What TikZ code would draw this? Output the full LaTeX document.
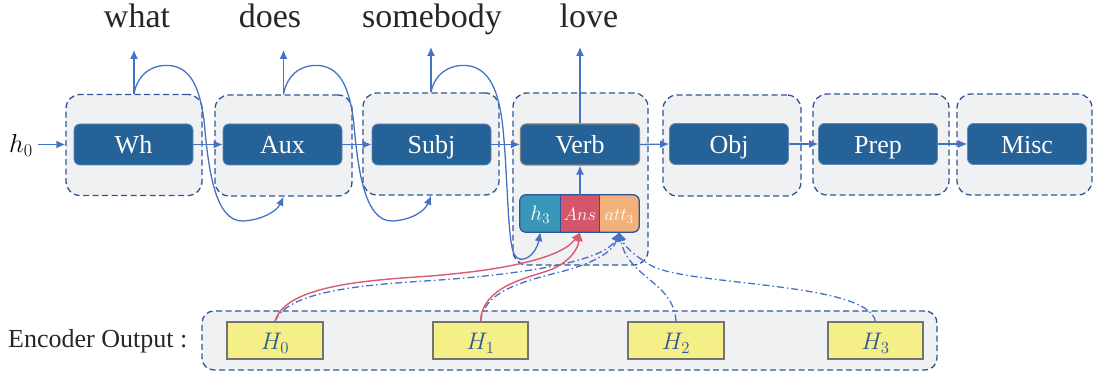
\RequirePackage{fix-cm}
\documentclass[tikz,border=0pt]{standalone}
\usepackage{fontspec}
\setmainfont{Liberation Serif}
\usetikzlibrary{arrows.meta}
\definecolor{boxgrey}{HTML}{F0F1F3}
\definecolor{dashblue}{HTML}{2F5597}
\definecolor{innerblue}{HTML}{246298}
\definecolor{lineblue}{HTML}{4472C4}
\definecolor{redline}{HTML}{D95B70}
\definecolor{tealc}{HTML}{3A96B8}
\definecolor{redc}{HTML}{D4566A}
\definecolor{orangec}{HTML}{F2B07A}
\definecolor{yellowc}{HTML}{F4EF87}
\definecolor{hblue}{HTML}{2F5597}
\tikzset{
  outerbox/.style={draw=dashblue, dash pattern=on 6pt off 3.5pt, line width=1.3pt, fill=boxgrey, rounded corners=14pt, inner sep=0pt},
  innerbox/.style={draw=innerblue!75!white, line width=0.8pt, fill=innerblue, rounded corners=6pt, minimum width=119pt, minimum height=41pt, inner sep=0pt, text height=19pt, text depth=0pt, text=white, font=\fontsize{26}{30}\selectfont},
  word/.style={font=\fontsize{34}{40}\selectfont, text=black!85, anchor=base, inner sep=0pt},
  arr/.style={draw=lineblue, line width=1.3pt, -{Latex[length=9pt,width=8pt]}},
  redarr/.style={draw=redline, line width=1.4pt, -{Latex[length=9pt,width=8pt]}},
  dd/.style={draw=lineblue, line width=1.3pt, dash pattern=on 7pt off 3pt on 1.5pt off 3pt, -{Latex[length=9pt,width=9pt]}},
  part/.style={inner sep=0pt, minimum height=37pt, text height=14pt, text depth=0pt, text=white, font=\fontsize{18}{22}\selectfont},
  hbox/.style={draw=black!55, line width=1.1pt, fill=yellowc, minimum height=37pt, inner sep=0pt, text height=18pt, text depth=0pt, text=hblue, font=\fontsize{24}{28}\selectfont}
}
\begin{document}
\begin{tikzpicture}[x=1pt,y=-1pt]
\useasboundingbox (0,0) rectangle (1093,379);

% outer dashed boxes
\node[outerbox, minimum width=136pt, minimum height=101pt] (whO) at (134,145) {};
\node[outerbox, minimum width=137pt, minimum height=101pt] (auxO) at (283.5,145.5) {};
\node[outerbox, minimum width=136pt, minimum height=102pt] (subjO) at (431,144) {};
\node[outerbox, minimum width=135pt, minimum height=172pt] (verbO) at (580.5,179) {};
\node[outerbox, minimum width=138pt, minimum height=101pt] (objO) at (732,145.5) {};
\node[outerbox, minimum width=136pt, minimum height=101pt] (prepO) at (881,144.5) {};
\node[outerbox, minimum width=135pt, minimum height=101pt] (miscO) at (1024.5,144.5) {};

% inner boxes
\node[innerbox] (wh) at (133.5,144.5) {Wh};
\node[innerbox] (aux) at (282.5,144.5) {Aux};
\node[innerbox] (subj) at (431.5,144.5) {Subj};
\node[innerbox, draw=black!50, line width=1.2pt] (verb) at (580,144.5) {Verb};
\node[innerbox] (obj) at (729,144) {Obj};
\node[innerbox] (prep) at (878,144) {Prep};
\node[innerbox] (misc) at (1027,144) {Misc};

% words
\node[word] (w1) at (137,28) {what};
\node[word] (w2) at (270,28) {does};
\node[word] (w3) at (432,28) {somebody};
\node[word] (w4) at (589,28) {love};

% h0
\node[anchor=base, inner sep=0pt, font=\fontsize{26}{30}\selectfont] (h0) at (21,153) {$h_0$};
\draw[arr] (h0.east |- wh.west) ++(5,0) coordinate (h0s) -- (whO.west |- wh.west);

% horizontal arrows
\draw[arr] (wh.east) -- (aux.west);
\draw[arr] (aux.east) -- (subj.west);
\draw[arr] (subj.east) -- (verb.west);
\draw[arr] (verb.east) -- (obj.west);
\draw[arr] (obj.east) -- (prep.west);
\draw[arr] (prep.east) -- (misc.west);

% up arrows
\coordinate (u1) at (134,50);
\coordinate (u2) at (283.5,50);
\coordinate (u3) at (431,47);
\coordinate (u4) at (580,47);
\draw[arr] (whO.north) -- (u1);
\draw[arr] (auxO.north) -- (u2);
\draw[arr] (subjO.north) -- (u3);
\draw[arr] (verb.north) -- (u4);

% loops
\draw[arr] (whO.north) .. controls (138,72) and (155,63) .. (173,66)
  .. controls (193,70) and (200,92) .. (204,120)
  .. controls (208,165) and (214,222) .. (243,221)
  .. controls (262,220) and (277,211) .. (auxO.south);
\draw[arr] (auxO.north) .. controls (287.5,72) and (304.5,63) .. (322.5,66)
  .. controls (342.5,70) and (349.5,92) .. (353.5,120)
  .. controls (357.5,165) and (363.5,222) .. (392.5,221)
  .. controls (411.5,220) and (425,211) .. (subjO.south);

% tri box
\begin{scope}
\clip[rounded corners=6pt] (520,195) rectangle (639,232);
\node[part, fill=tealc, minimum width=40.5pt, font=\fontsize{21}{24}\selectfont] (h3n) at (540.25,213.5) {$h_3$};
\node[part, fill=redc, minimum width=39pt] (ansn) at (580,213.5) {$Ans$};
\node[part, fill=orangec, minimum width=39.5pt] (attn) at (619.25,213.5) {$att_3$};
\end{scope}
\draw[dashblue, line width=1.1pt] (h3n.north east) -- (h3n.south east);
\draw[dashblue, line width=1.1pt] (attn.north west) -- (attn.south west);
\draw[dashblue, line width=1.3pt, rounded corners=6pt] (h3n.north west) rectangle (attn.south east);
\draw[arr] (ansn.north) -- (verb.south);

\draw[arr] (subjO.north) .. controls (435,72) and (452,63) .. (470,66)
  .. controls (490,70) and (498,92) .. (502,120)
  .. controls (508,170) and (507,238) .. (514,254)
  .. controls (520,266) and (536,256) .. (h3n.south);

% encoder
\node[anchor=base west, inner sep=0pt, font=\fontsize{26}{30}\selectfont, text=black!85] (enc) at (8,348) {Encoder Output :};
\node[outerbox, rounded corners=12pt, minimum width=735pt, minimum height=59pt] (encO) at (569.5,340.5) {};
\node[hbox, minimum width=96pt] (H0) at (275,340.5) {$H_0$};
\node[hbox, minimum width=95pt] (H1) at (480.5,340.5) {$H_1$};
\node[hbox, minimum width=96pt] (H2) at (676,340.5) {$H_2$};
\node[hbox, minimum width=95pt] (H3) at (875.5,340.5) {$H_3$};

% attention connections
\draw[dd] (H0.north) .. controls (288,288) and (380,284) .. (440,280)
  .. controls (520,274) and (605,262) .. (attn.south);
\draw[dd] (H1.north) .. controls (484,292) and (520,282) .. (560,272)
  .. controls (592,264) and (613,252) .. (attn.south);
\draw[dd] (H2.north) .. controls (674,282) and (628,278) .. (attn.south);
\draw[dd] (H3.north) .. controls (868,282) and (690,286) .. (652,266)
  .. controls (636,257) and (624,246) .. (attn.south);
\draw[redarr] (H0.north) .. controls (285,284) and (375,280) .. (430,276)
  .. controls (505,270) and (562,258) .. (ansn.south);
\draw[redarr] (H1.north) .. controls (482,286) and (528,278) .. (550,270)
  .. controls (568,263) and (578,250) .. (ansn.south);
\end{tikzpicture}
\end{document}
